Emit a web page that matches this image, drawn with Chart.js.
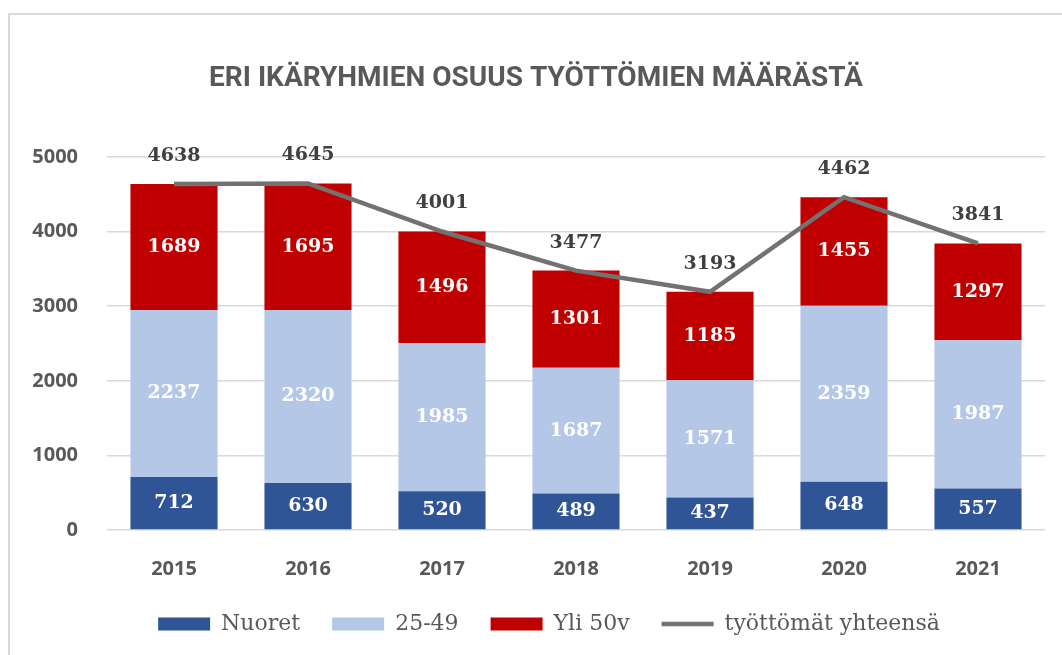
<!DOCTYPE html>
<html>
<head>
<meta charset="utf-8">
<script src="https://cdn.jsdelivr.net/npm/chart.js@4"></script>
<style>
  html, body { margin: 0; padding: 0; background: #ffffff; }
  #wrap { position: relative; width: 1062px; height: 655px; }
</style>
</head>
<body>
<div id="wrap"><canvas id="c" width="1062" height="655"></canvas></div>
<script>
const years = ['2015', '2016', '2017', '2018', '2019', '2020', '2021'];
const nuoret = [712, 630, 520, 489, 437, 648, 557];
const keski = [2237, 2320, 1985, 1687, 1571, 2359, 1987];
const yli50 = [1689, 1695, 1496, 1301, 1185, 1455, 1297];
const yhteensa = [4638, 4645, 4001, 3477, 3193, 4462, 3841];
const yTicks = [0, 1000, 2000, 3000, 4000, 5000];
const seriesNames = ['Nuoret', '25-49', 'Yli 50v', 'työttömät yhteensä'];
const titleText = 'ERI IKÄRYHMIEN OSUUS TYÖTTÖMIEN MÄÄRÄSTÄ';

const borderPlugin = {
  id: 'frame',
  beforeDraw(chart) {
    const ctx = chart.ctx;
    ctx.save();
    ctx.fillStyle = '#ffffff';
    ctx.fillRect(0, 0, chart.width, chart.height);
    ctx.strokeStyle = '#d9d9d9';
    ctx.lineWidth = 2;
    ctx.beginPath();
    ctx.moveTo(9, chart.height);
    ctx.lineTo(9, 14);
    ctx.lineTo(chart.width, 14);
    ctx.stroke();
    ctx.restore();
  }
};

const shiftLegend = {
  id: 'shiftLegend',
  afterLayout(chart) {
    const lg = chart.legend;
    if (lg) {
      lg.left += 13; lg.right += 13;
      lg.top -= 27; lg.bottom = chart.height;
    }
  }
};

const labelPlugin = {
  id: 'valueLabels',
  afterDatasetsDraw(chart) {
    const ctx = chart.ctx;
    ctx.save();
    ctx.textAlign = 'center';
    ctx.textBaseline = 'middle';
    ctx.font = 'bold 19px "DejaVu Serif", serif';
    chart.data.datasets.forEach((ds, di) => {
      const meta = chart.getDatasetMeta(di);
      if (meta.hidden) return;
      meta.data.forEach((el, i) => {
        const v = ds.data[i];
        if (ds.type === 'line') {
          ctx.fillStyle = '#404040';
          ctx.fillText(String(v), el.x, el.y - 28);
        } else {
          ctx.fillStyle = '#ffffff';
          ctx.fillText(String(v), el.x, (el.y + el.base) / 2);
        }
      });
    });
    ctx.restore();
  }
};

new Chart(document.getElementById('c'), {
  data: {
    labels: years,
    datasets: [
      { type: 'bar', label: seriesNames[0], data: nuoret, backgroundColor: '#2F5597', order: 1, barPercentage: 0.65, categoryPercentage: 1 },
      { type: 'bar', label: seriesNames[1], data: keski, backgroundColor: '#B4C7E7', order: 1, barPercentage: 0.65, categoryPercentage: 1 },
      { type: 'bar', label: seriesNames[2], data: yli50, backgroundColor: '#C00000', order: 1, barPercentage: 0.65, categoryPercentage: 1 },
      { type: 'line', label: seriesNames[3], data: yhteensa, borderColor: '#767171', backgroundColor: '#767171', borderWidth: 4.5, pointRadius: 0, tension: 0, order: 0 }
    ]
  },
  options: {
    responsive: false,
    animation: false,
    devicePixelRatio: 1,
    layout: { padding: { left: 27, right: 17, top: 0, bottom: 7 } },
    plugins: {
      title: {
        display: true,
        text: titleText,
        color: '#595959',
        font: { family: 'Roboto', size: 28, weight: 'bold', lineHeight: 1.2 },
        padding: { top: 62, bottom: 61.4 }
      },
      legend: {
        display: true,
        position: 'bottom',
        maxHeight: 40,
        labels: {
          color: '#595959',
          font: { family: '"DejaVu Serif", serif', size: 22 },
          usePointStyle: true,
          pointStyleWidth: 52,
          boxHeight: 13,
          padding: 32,
          sort: (a, b) => a.datasetIndex - b.datasetIndex,
          generateLabels(chart) {
            const items = Chart.defaults.plugins.legend.labels.generateLabels(chart);
            items.forEach(it => {
              const ds = chart.data.datasets[it.datasetIndex];
              if (ds.type === 'line') {
                it.pointStyle = 'line';
                it.lineWidth = 4.5;
                it.strokeStyle = '#767171';
              } else {
                it.pointStyle = 'rect';
                it.lineWidth = 0;
              }
            });
            return items;
          }
        }
      },
      tooltip: { enabled: false }
    },
    scales: {
      x: {
        stacked: true,
        grid: { display: false, drawTicks: false },
        border: { display: false },
        ticks: { color: '#595959', font: { family: '"Open Sans"', size: 20, weight: 'bold' }, padding: 27 }
      },
      y: {
        stacked: true,
        min: 0,
        max: 5000,
        afterBuildTicks(scale) { scale.ticks = yTicks.map(v => ({ value: v })); },
        afterFit(scale) { scale.width = 80; },
        grid: { color: '#d9d9d9', lineWidth: 1.5, drawTicks: false },
        border: { display: false },
        ticks: {
          color: '#595959',
          font: { family: '"Open Sans"', size: 20, weight: 'bold' },
          padding: 29,
          callback: (v) => String(v)
        }
      }
    }
  },
  plugins: [borderPlugin, shiftLegend, labelPlugin]
});
</script>
</body>
</html>
